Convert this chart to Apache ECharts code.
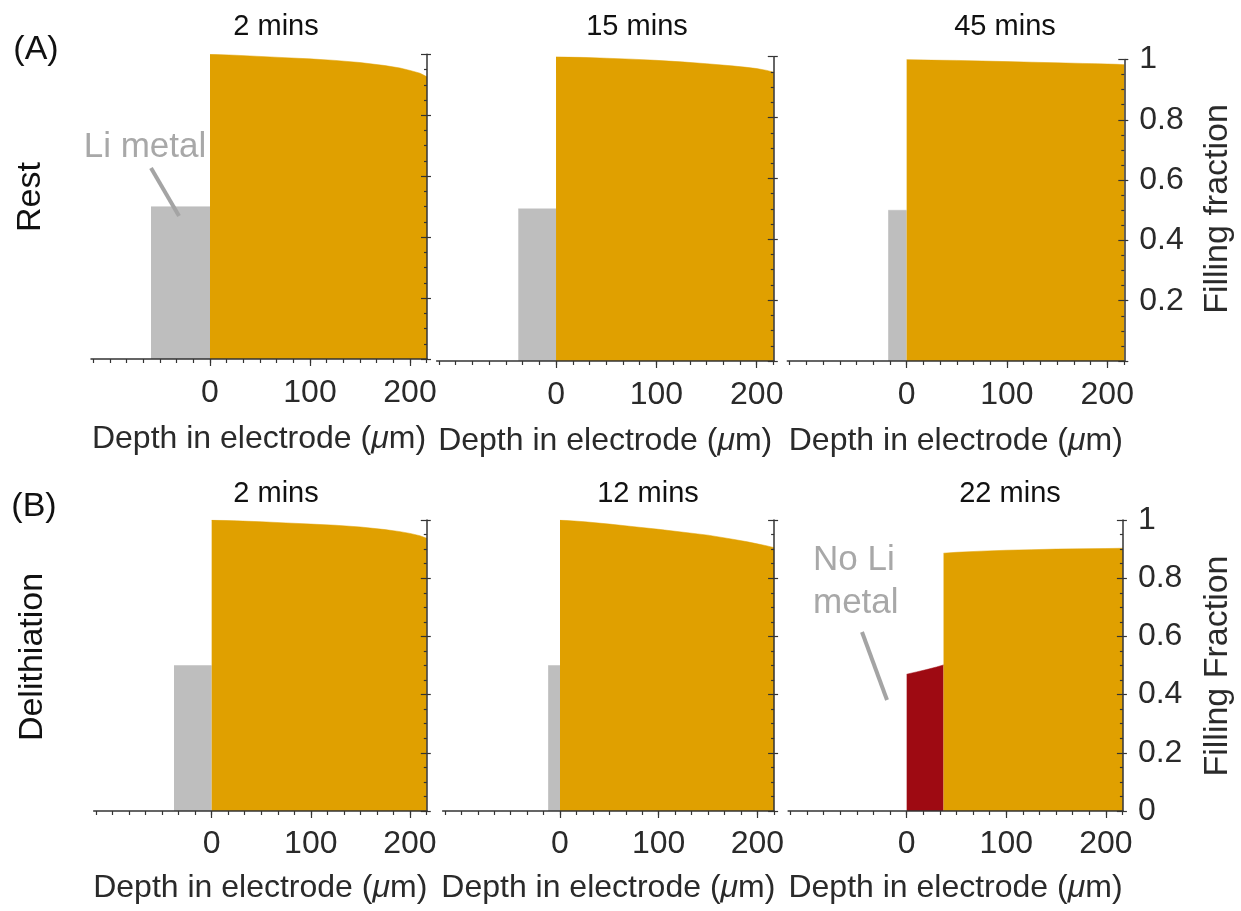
<!DOCTYPE html>
<html>
<head>
<meta charset="utf-8">
<script src="https://cdn.jsdelivr.net/npm/echarts@6/dist/echarts.min.js"></script>
<style>html,body{margin:0;padding:0;background:#fff}#c{width:1241px;height:911px}</style>
</head>
<body>
<div id="c"></div>
<script>
// ---------------- data ----------------
const depthPts = [0, 25, 50, 75, 100, 125, 150, 175, 190, 200, 210, 217];
const rest2min  = [1.000, 0.997, 0.993, 0.989, 0.985, 0.980, 0.973, 0.963, 0.955, 0.947, 0.938, 0.926];
const rest15min = [1.000, 0.998, 0.995, 0.992, 0.988, 0.983, 0.977, 0.970, 0.965, 0.961, 0.955, 0.949];
const rest45min = [1.000, 0.998, 0.997, 0.995, 0.993, 0.991, 0.989, 0.987, 0.986, 0.985, 0.984, 0.983];
const delith2min  = [1.000, 0.997, 0.994, 0.990, 0.986, 0.982, 0.976, 0.967, 0.960, 0.954, 0.946, 0.937];
const delith12min = [1.000, 0.994, 0.986, 0.977, 0.968, 0.958, 0.948, 0.934, 0.925, 0.918, 0.911, 0.905];
const delith22Depth = [37, 50, 75, 100, 125, 150, 175, 200, 217];
const delith22min   = [0.886, 0.889, 0.893, 0.896, 0.898, 0.900, 0.901, 0.902, 0.903];
const delith22RedDepth = [0, 10, 20, 30, 37];
const delith22Red      = [0.470, 0.478, 0.486, 0.495, 0.502];
const liMetalStart = [-59, -37.6, -18.4, -38, -12, null];   // µm, Li metal extends to 0
const liMetalLevel = 0.5;
const panelTitles = ['2 mins', '15 mins', '45 mins', '2 mins', '12 mins', '22 mins'];
const xRange = [-119, 217];
const xTickLabels = [0, 100, 200];
const xMinorStep = 100 / 6;
const yTickLabelsTop = [0.2, 0.4, 0.6, 0.8, 1];
const yTickLabelsBottom = [0, 0.2, 0.4, 0.6, 0.8, 1];

// ---------------- layout / style ----------------
const FF = '"Liberation Sans", Arial, Helvetica, sans-serif';
const ORANGE = '#e0a000', GRAY = '#bebebe', RED = '#9e0a12', AX = '#333';
const panels = [
  {left: 91,    top: 54.3, width: 336,   height: 304.7, title: [276, 27],  row: 0},
  {left: 436.6, top: 56.7, width: 337.2, height: 304.3, title: [637, 27],  row: 0},
  {left: 787.3, top: 59.5, width: 337,   height: 301.5, title: [1005, 27], row: 0},
  {left: 93.7,  top: 520,  width: 333.1, height: 291,   title: [276, 494], row: 1},
  {left: 442.6, top: 520,  width: 331.5, height: 291,   title: [648, 494], row: 1},
  {left: 788.1, top: 520,  width: 334.8, height: 291,   title: [1010, 494], row: 1}
];
const orangeSets = [
  [depthPts, rest2min], [depthPts, rest15min], [depthPts, rest45min],
  [depthPts, delith2min], [depthPts, delith12min], [delith22Depth, delith22min]
];

const minorTicks = [];
for (let k = Math.ceil(xRange[0] / xMinorStep); k * xMinorStep <= xRange[1] + 1e-9; k++) minorTicks.push(k * xMinorStep);

const zip = (xs, ys) => xs.map((x, i) => [x, ys[i]]);

function txt(x, y, text, size, color, rot, align) {
  return {
    type: 'text', x: x, y: y, rotation: rot || 0, silent: true, z: 100,
    style: {text: text, fontSize: size, fontFamily: FF, fill: color,
      align: align || 'center', verticalAlign: 'middle',
      textAlign: align || 'center', textVerticalAlign: 'middle'}
  };
}

const grid = [], xAxis = [], yAxis = [], series = [], graphic = [];
panels.forEach((p, i) => {
  const rect = {left: p.left, top: p.top, width: p.width, height: p.height, containLabel: false};
  const last = (i % 3) === 2;
  const rowLabelGap = p.row === 0 ? 18 : 17;
  const nameGap = p.row === 0 ? 64 : 61;
  // main grid
  grid.push(Object.assign({}, rect));
  const gi = grid.length - 1;
  xAxis.push({
    gridIndex: gi, type: 'value', position: 'bottom', min: xRange[0], max: xRange[1], z: 10,
    axisLine: {show: true, onZero: false, lineStyle: {color: AX, width: 1.5}},
    axisTick: {show: true, customValues: minorTicks, length: 4, lineStyle: {color: AX, width: 1.2}},
    axisLabel: {show: true, customValues: xTickLabels, margin: rowLabelGap, fontSize: 32, fontFamily: FF, color: '#2a2a2a'},
    splitLine: {show: false},
    name: 'Depth in electrode ({mu|μ}m)', nameLocation: 'middle', nameGap: nameGap,
    nameTextStyle: {fontSize: 32, fontFamily: FF, color: '#2a2a2a',
      rich: {mu: {fontSize: 32, fontFamily: FF, fontStyle: 'italic', color: '#2a2a2a'}}}
  });
  yAxis.push({
    gridIndex: gi, type: 'value', position: 'right', min: 0, max: 1, interval: 0.2, z: 10,
    axisLine: {show: true, onZero: false, lineStyle: {color: AX, width: 1.5}},
    axisTick: {show: true, inside: true, length: 6, lineStyle: {color: AX, width: 1.2}},
    minorTick: {show: true, splitNumber: 4, length: 3, lineStyle: {color: AX, width: 1.2}},
    axisLabel: last ? {show: true, customValues: p.row === 0 ? yTickLabelsTop : yTickLabelsBottom,
                      margin: 15, fontSize: 32, fontFamily: FF, color: '#2a2a2a'} : {show: false},
    splitLine: {show: false}
  });
  // overlay grid for major x ticks / outer y ticks
  grid.push(Object.assign({}, rect));
  const go = grid.length - 1;
  xAxis.push({
    gridIndex: go, type: 'value', position: 'bottom', min: xRange[0], max: xRange[1], z: 10,
    axisLine: {show: false, onZero: false},
    axisTick: {show: true, customValues: xTickLabels, length: 7, lineStyle: {color: AX, width: 1.2}},
    axisLabel: {show: false}, splitLine: {show: false}
  });
  yAxis.push({
    gridIndex: go, type: 'value', position: 'right', min: 0, max: 1, interval: 0.2, z: 10,
    axisLine: {show: false, onZero: false},
    axisTick: {show: true, inside: false, length: 4, lineStyle: {color: AX, width: 1.2}},
    axisLabel: {show: false}, splitLine: {show: false}
  });

  const baseSeries = {
    type: 'line', xAxisIndex: gi, yAxisIndex: gi, showSymbol: false, symbol: 'none',
    smooth: false, animation: false, silent: true
  };
  if (liMetalStart[i] !== null) {
    series.push(Object.assign({}, baseSeries, {
      data: [[liMetalStart[i], liMetalLevel], [0, liMetalLevel]],
      lineStyle: {color: GRAY, width: 0.5}, areaStyle: {color: GRAY, opacity: 1}
    }));
  }
  if (i === 5) {
    series.push(Object.assign({}, baseSeries, {
      data: zip(delith22RedDepth, delith22Red),
      lineStyle: {color: RED, width: 0.5}, areaStyle: {color: RED, opacity: 1}
    }));
  }
  series.push(Object.assign({}, baseSeries, {
    data: zip(orangeSets[i][0], orangeSets[i][1]),
    lineStyle: {color: ORANGE, width: 0.5}, areaStyle: {color: ORANGE, opacity: 1}
  }));

  graphic.push(txt(p.title[0], p.title[1], panelTitles[i], 29, '#111'));
});

const ANN = '#a8a8a8';
graphic.push(txt(36, 50, '(A)', 34, '#111'));
graphic.push(txt(34, 507, '(B)', 34, '#111'));
graphic.push(txt(31, 197, 'Rest', 34, '#111', Math.PI / 2));
graphic.push(txt(33, 657, 'Delithiation', 34, '#111', Math.PI / 2));
graphic.push(txt(1218, 209, 'Filling fraction', 34, '#2a2a2a', Math.PI / 2));
graphic.push(txt(1218, 666, 'Filling Fraction', 34, '#2a2a2a', Math.PI / 2));
graphic.push(txt(145, 147, 'Li metal', 35, ANN));
graphic.push({type: 'line', silent: true, z: 100, shape: {x1: 151, y1: 168, x2: 179, y2: 216},
  style: {stroke: '#a4a4a4', lineWidth: 4}});
graphic.push(txt(813, 560, 'No Li', 35, ANN, 0, 'left'));
graphic.push(txt(813, 603, 'metal', 35, ANN, 0, 'left'));
graphic.push({type: 'line', silent: true, z: 100, shape: {x1: 862, y1: 632, x2: 887, y2: 700},
  style: {stroke: '#a4a4a4', lineWidth: 4}});

const chart = echarts.init(document.getElementById('c'), null, {renderer: 'canvas'});
chart.setOption({
  backgroundColor: '#fff',
  animation: false,
  grid: grid, xAxis: xAxis, yAxis: yAxis, series: series, graphic: graphic
});
</script>
</body>
</html>
